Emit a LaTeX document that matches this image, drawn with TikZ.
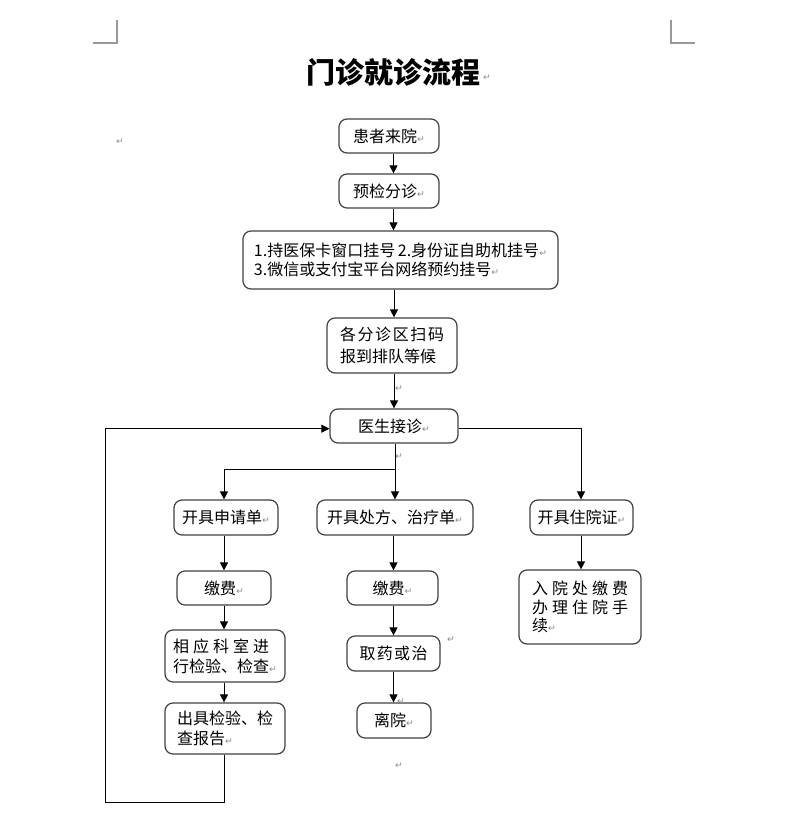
\documentclass[tikz,border=0pt]{standalone}
\usepackage{fontspec}
\usetikzlibrary{arrows.meta,calc}
\newfontfamily\cjk{Noto Sans CJK SC}
\newfontfamily\symf{DejaVu Sans}
\newcommand\fs[1]{\fontsize{12}{#1}\selectfont}
\newcommand\pmk{{\symf\fontsize{7}{7}\selectfont\color{black!45}↵}}
\tikzset{
  box/.style={draw=black!75, line width=0.9pt, rounded corners=6pt, inner sep=0pt,
    align=left, font=\cjk\fs{16}},
  bx/.style 2 args={minimum width=#1*0.75pt, minimum height=#2*0.75pt},
  conn/.style={draw=black, line width=0.75pt},
  arr/.style={conn, -{Triangle[length=6pt,width=6pt]}},
  cmark/.style={draw=black!40, line width=0.8pt},
  pm/.style={inner sep=0pt, font=\symf\fontsize{7}{7}\selectfont, text=black!45}
}
\begin{document}
\begin{tikzpicture}[x=0.75pt,y=-0.75pt]
\useasboundingbox (0,0) rectangle (788,817);
% page corner marks
\draw[cmark] (93,43) -- (117,43) -- (117,20);
\draw[cmark] (695,43) -- (671,43) -- (671,20);
% title
\node[inner sep=0pt, font=\cjk\bfseries\fontsize{21.75}{24}\selectfont] (title) at (393,72) {门诊就诊流程};
% column coordinates
\coordinate (k1) at (393.5,0);
\coordinate (k2) at (224,0);
\coordinate (k3) at (581,0);
\coordinate (j) at (395,469);
\coordinate (fb) at (105,802);
% boxes
\node[box,bx={100}{34}] (a1) at (389,136) {患者来院\pmk};
\node[box,bx={100}{34}] (a2) at (389,191) {预检分诊\pmk};
\node[box,bx={315}{58},font=\cjk\fs{14}] (a3) at (400.5,260)
  {1.持医保卡窗口挂号\,2.身份证自助机挂号\pmk\\3.微信或支付宝平台网络预约挂号\pmk};
\node[box,bx={130}{55},font=\cjk\fs{17}] (a4) at (392,345.5)
  {\makebox[6.5em][l]{各\hfill 分\hfill 诊\hfill 区\hfill 扫\hfill 码}\\报到排队等候};
\node[box,bx={128}{34}] (a5) at (394,426) {医生接诊\pmk};
\node[box,bx={104}{35}] (b1) at (226,517.5) {开具申请单\pmk};
\node[box,bx={156}{35}] (b2) at (395,517.5) {开具处方、治疗单\pmk};
\node[box,bx={103}{35}] (b3) at (581.5,517.5) {开具住院证\pmk};
\node[box,bx={94}{34}] (c1) at (224,588) {缴费\pmk};
\node[box,bx={91}{34}] (c2) at (392.5,588) {缴费\pmk};
\node[box,bx={122}{74},font=\cjk\fs{14}] (c3) at (580,607)
  {\makebox[6em][l]{入\hfill 院\hfill 处\hfill 缴\hfill 费}\\\makebox[6em][l]{办\hfill 理\hfill 住\hfill 院\hfill 手}\\续\pmk};
\node[box,bx={120}{52},font=\cjk\fs{15}] (d1) at (225,656)
  {\makebox[6em][l]{相\hfill 应\hfill 科\hfill 室\hfill 进}\\行检验、检查\pmk};
\node[box,bx={93}{35}] (d2) at (393.5,653.5)
  {\makebox[4.25em][l]{取\hfill 药\hfill 或\hfill 治}};
\node[box,bx={120}{51},font=\cjk\fs{15}] (e1) at (225,728.5) {出具检验、检\\查报告\pmk};
\node[box,bx={74}{35}] (e2) at (394,720.5) {离院\pmk};
% stray paragraph marks
\node[pm] (p1) at (120,142) {↵};
\node[pm] (p2) at (487,78) {↵};
\node[pm] (p3) at (399,389) {↵};
\node[pm] (p4) at (399,457) {↵};
\node[pm] (p5) at (451,640) {↵};
\node[pm] (p6) at (399,766) {↵};
\node[pm] (p7) at (401,702) {↵};
% connectors
\draw[arr] (a1.south -| k1) -- (a2.north -| k1);
\draw[arr] (a2.south -| k1) -- (a3.north -| k1);
\draw[arr] (a3.south -| a5) -- (a4.north -| a5);
\draw[arr] (a4.south -| a5) -- (a5.north);
\draw[conn] (a5.south -| j) -- (j);
\draw[arr] (j) -- (b2.north -| j);
\draw[arr] (j) -| (b1.north -| k2);
\draw[arr] ([yshift=-2pt]a5.east) -| (b3.north -| k3);
\draw[arr] (b1.south -| k2) -- (c1.north -| k2);
\draw[arr] (c1.south -| k2) -- (d1.north -| k2);
\draw[arr] (d1.south -| k2) -- (e1.north -| k2);
\draw[arr] (b2.south -| k1) -- (c2.north -| k1);
\draw[arr] (c2.south -| k1) -- (d2.north -| k1);
\draw[arr] (d2.south -| k1) -- (e2.north -| k1);
\draw[arr] (b3.south -| k3) -- (c3.north -| k3);
\draw[arr] (e1.south -| k2) |- (fb) |- ([yshift=-2pt]a5.west);
\end{tikzpicture}
\end{document}
